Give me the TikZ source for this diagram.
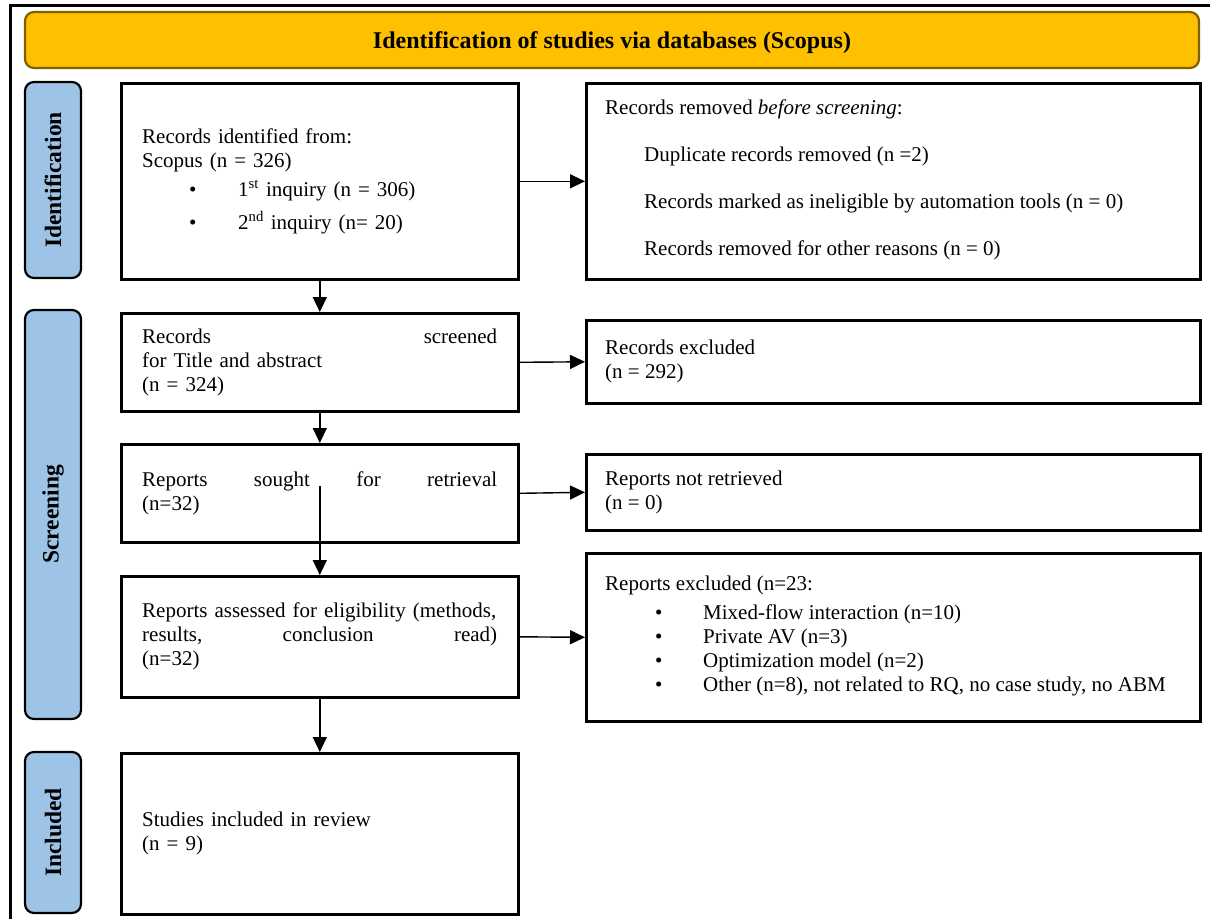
\documentclass[tikz,border=0pt]{standalone}
\usepackage{fontspec}
\setmainfont{Liberation Serif}
\usetikzlibrary{arrows.meta}
\definecolor{hdrfill}{HTML}{FFC000}
\definecolor{hdrdraw}{HTML}{7F6000}
\definecolor{stagefill}{HTML}{9DC3E6}
\begin{document}
\begin{tikzpicture}[x=1pt,y=-1pt,
  box/.style={draw=black,line width=2.6pt,fill=white,inner sep=0pt,anchor=north west},
  lbox/.style={box,minimum width=397pt},
  rbox/.style={box,minimum width=614pt},
  txt/.style={anchor=west,inner sep=0pt,font=\fontsize{21}{24}\selectfont,align=left},
  ltxt/.style={txt,text width=355pt},
  stage/.style={draw=black,line width=2.2pt,fill=stagefill,rounded corners=9pt,rotate=90,
    minimum height=56pt,inner sep=0pt,font=\fontsize{23.5}{26}\selectfont\bfseries},
  header/.style={draw=hdrdraw,line width=2.2pt,fill=hdrfill,rounded corners=9pt,
    minimum width=1174pt,minimum height=56pt,inner sep=0pt},
  hdrtext/.style={inner sep=0pt,font=\fontsize{24}{26}\selectfont\bfseries},
  arr/.style={line width=1.4pt,-{Triangle[length=15pt,width=14pt]}}
]
\useasboundingbox (0,0) rectangle (1210,919);
% outer frame (top and left edges only)
\draw[line width=3pt] (10.5,919) -- (10.5,5.5) -- (1210,5.5);

\node[header] (hdr) at (612,40) {};
\node[hdrtext] (hdrt) at ([yshift=-3pt]hdr.center) {Identification of studies via databases (Scopus)};

\node[stage,minimum width=196pt] (sId) at (53,180) {Identification};
\node[stage,minimum width=409pt] (sScr) at (53,514.5) {Screening};
\node[stage,minimum width=161pt] (sInc) at (53,832.5) {Included};

% left column boxes
\node[lbox,minimum height=196pt] (b1) at (120,82) {};
\node[lbox,minimum height=98pt] (b2) at (120,312) {};
\node[lbox,minimum height=98pt] (b3) at (120,443) {};
\node[lbox,minimum height=121pt] (b4) at (120,575) {};
\node[lbox,minimum height=161pt] (b5) at (120,752) {};
% right column boxes
\node[rbox,minimum height=196pt] (r1) at (585,82) {};
\node[rbox,minimum height=83pt] (r2) at (585,319) {};
\node[rbox,minimum height=76pt] (r3) at (585,453) {};
\node[rbox,minimum height=168pt] (r4) at (585,552) {};

% texts
\node[ltxt] (b1t) at ([xshift=22pt]b1.west) {Records identified from:\\
Scopus (n = 326)\\[5pt]
\hspace*{47pt}\makebox[49pt][l]{\textbullet}1\textsuperscript{st} inquiry (n = 306)\\[9pt]
\hspace*{47pt}\makebox[49pt][l]{\textbullet}2\textsuperscript{nd} inquiry (n= 20)};

\node[ltxt] (b2t) at ([xshift=22pt]b2.west) {Records\hfill screened\\
for Title and abstract\\
(n = 324)};

\node[ltxt] (b3t) at ([xshift=22pt]b3.west) {Reports\hfill sought\hfill for\hfill retrieval\\
(n=32)};

\node[ltxt] (b4t) at ([xshift=22pt]b4.west) {Reports assessed for eligibility (methods,\\
results,\hfill conclusion\hfill read)\\
(n=32)};

\node[ltxt] (b5t) at ([xshift=22pt]b5.west) {Studies included in review\\
(n = 9)};

\node[txt] (r1t) at ([xshift=20pt,yshift=1pt]r1.west) {Records removed \textit{before screening}:\\[23pt]
\hspace*{39pt}Duplicate records removed (n =2)\\[23pt]
\hspace*{39pt}Records marked as ineligible by automation tools (n = 0)\\[23pt]
\hspace*{39pt}Records removed for other reasons (n = 0)};

\node[txt] (r2t) at ([xshift=20pt]r2.west) {Records excluded\\
(n = 292)};

\node[txt] (r3t) at ([xshift=20pt]r3.west) {Reports not retrieved\\
(n = 0)};

\node[txt] (r4t) at ([xshift=20pt,yshift=1pt]r4.west) {Reports excluded (n=23:\\[5pt]
\hspace*{50pt}\makebox[48pt][l]{\textbullet}Mixed-flow interaction (n=10)\\
\hspace*{50pt}\makebox[48pt][l]{\textbullet}Private AV (n=3)\\
\hspace*{50pt}\makebox[48pt][l]{\textbullet}Optimization model (n=2)\\
\hspace*{50pt}\makebox[48pt][l]{\textbullet}Other (n=8), not related to RQ, no case study, no ABM};

\coordinate (b3in) at ([yshift=7pt]b3.center);

\draw[arr] (b1.south) -- (b2.north);
\draw[arr] (b2.south) -- (b3.north);
\draw[arr] (b3in) -- (b4.north);
\draw[arr] (b4.south) -- (b5.north);

\draw[arr] (b1.east) -- (r1.west);
\draw[arr] (b2.east) -- (r2.west);
\draw[arr] (b3.east) -- (r3.west);
\draw[arr] (b4.east) -- (r4.west);
\end{tikzpicture}
\end{document}
